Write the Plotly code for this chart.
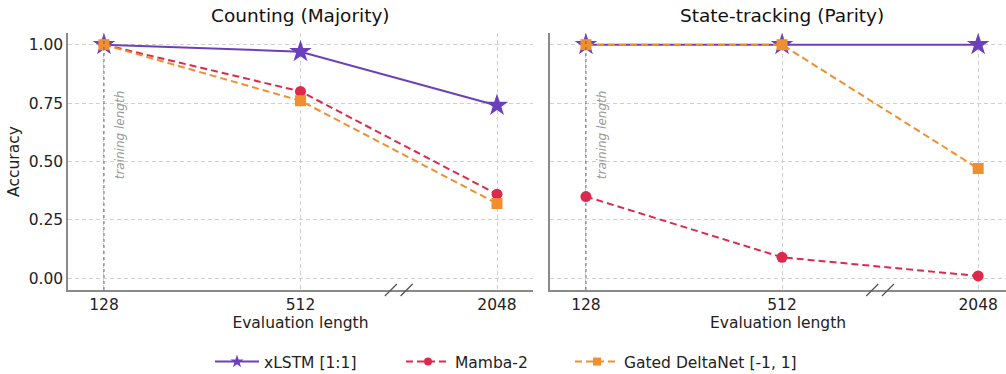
import plotly.graph_objects as go

lengths = ["128", "512", "2048"]
panels = ["Counting (Majority)", "State-tracking (Parity)"]
models = ["xLSTM [1:1]", "Mamba-2", "Gated DeltaNet [-1, 1]"]

counting_xlstm = [1.00, 0.97, 0.74]
counting_mamba = [1.00, 0.80, 0.36]
counting_gdn = [1.00, 0.76, 0.32]

parity_xlstm = [1.00, 1.00, 1.00]
parity_mamba = [0.35, 0.09, 0.01]
parity_gdn = [1.00, 1.00, 0.47]

y_ticks = [0.00, 0.25, 0.50, 0.75, 1.00]

colors = ["#6C40BD", "#DC2A4C", "#F08F30"]
symbols = ["star", "circle", "square"]
sizes = [17, 11, 11]
legend_sizes = [10, 8, 8]
dashes = ["solid", "7px,4px", "7px,4px"]
legend_x_px = [210, 401, 570]

data = [
    [counting_xlstm, counting_mamba, counting_gdn],
    [parity_xlstm, parity_mamba, parity_gdn],
]

FONT = "DejaVu Sans"
FS = 15.5
W, H = 1006, 374
fig = go.Figure()
xpos = [0, 1, 2]
for p in range(2):
    xa = "x" if p == 0 else "x2"
    ya = "y" if p == 0 else "y2"
    for m in range(3):
        fig.add_trace(go.Scatter(
            x=xpos, y=data[p][m], mode="lines+markers", name=models[m],
            xaxis=xa, yaxis=ya, showlegend=False,
            line=dict(color=colors[m], width=2, dash=dashes[m]),
            marker=dict(symbol=symbols[m], size=sizes[m], color=colors[m],
                        line=dict(width=0)),
        ))

legend_names = ["legend", "legend2", "legend3"]
for m in range(3):
    fig.add_trace(go.Scatter(
        x=[None], y=[None], mode="lines+markers", name=models[m],
        showlegend=True, legend=legend_names[m],
        line=dict(color=colors[m], width=2, dash=dashes[m]),
        marker=dict(symbol=symbols[m], size=legend_sizes[m], color=colors[m],
                    line=dict(width=0)),
    ))

gridc = "#d0d0d0"
spine = "#8a8a8a"
common_x = dict(tickmode="array", tickvals=xpos, ticktext=lengths,
                showgrid=True, gridcolor=gridc, griddash="4px,3px", gridwidth=1,
                showline=True, linecolor=spine, linewidth=1.5, ticks="",
                zeroline=False, tickfont=dict(size=FS, color="#222"),
                title=dict(text="Evaluation length", font=dict(size=FS, color="#222"), standoff=0))
common_y = dict(tickmode="array", tickvals=y_ticks, range=[-0.05, 1.05],
                showgrid=True, gridcolor=gridc, griddash="4px,3px", gridwidth=1,
                showline=True, linecolor=spine, linewidth=1.5, ticks="",
                zeroline=False, tickfont=dict(size=FS, color="#222"))

legend_common = dict(orientation="h", yref="container", xref="container",
                     y=1 - 362 / H, yanchor="middle", xanchor="left",
                     font=dict(size=FS, color="#222"), itemwidth=44,
                     bgcolor="rgba(0,0,0,0)")

fig.update_layout(
    width=W, height=H,
    margin=dict(l=68, r=0, t=33, b=84),
    plot_bgcolor="white", paper_bgcolor="white",
    font=dict(family=FONT, color="#222"),
    xaxis=dict(domain=[0, 0.4957], range=[-0.183, 2.183], **common_x),
    xaxis2=dict(domain=[0.5139, 1], range=[-0.183, 2.142], anchor="y2", **common_x),
    yaxis=dict(domain=[0, 1], tickformat=".2f",
               title=dict(text="Accuracy", font=dict(size=FS, color="#222"), standoff=5),
               **common_y),
    yaxis2=dict(domain=[0, 1], anchor="x2", showticklabels=False, matches="y", **common_y),
    legend=dict(x=legend_x_px[0] / W, **legend_common),
    legend2=dict(x=legend_x_px[1] / W, **legend_common),
    legend3=dict(x=legend_x_px[2] / W, **legend_common),
)

shapes = []
annotations = []
for p in range(2):
    xr = "x" if p == 0 else "x2"
    yr = "y" if p == 0 else "y2"
    ydom = "y domain" if p == 0 else "y2 domain"
    shapes.append(dict(type="line", xref=xr, yref=ydom,
                       x0=0, x1=0, y0=0, y1=1,
                       line=dict(color="#666", width=1, dash="dot"), layer="above"))
    annotations.append(dict(xref=xr, yref=yr, x=0.08, y=0.615, text="training length",
                            textangle=-90, showarrow=False, xanchor="center", yanchor="middle",
                            font=dict(size=12, color="#999", style="italic", family=FONT)))
    for bx in [1.46, 1.54]:
        shapes.append(dict(type="line", xref=xr, yref=ydom,
                           xsizemode="pixel", ysizemode="pixel", xanchor=bx, yanchor=0,
                           x0=-6, x1=6, y0=-6, y1=6,
                           line=dict(color="#555", width=1.3), layer="above"))
    annotations.append(dict(xref=xr, yref="paper", x=1, y=1.0, yshift=5,
                            text=panels[p], showarrow=False, xanchor="center",
                            yanchor="bottom", font=dict(size=18.5, color="#111")))

fig.update_layout(shapes=shapes, annotations=annotations)
fig.write_html("out.html")
